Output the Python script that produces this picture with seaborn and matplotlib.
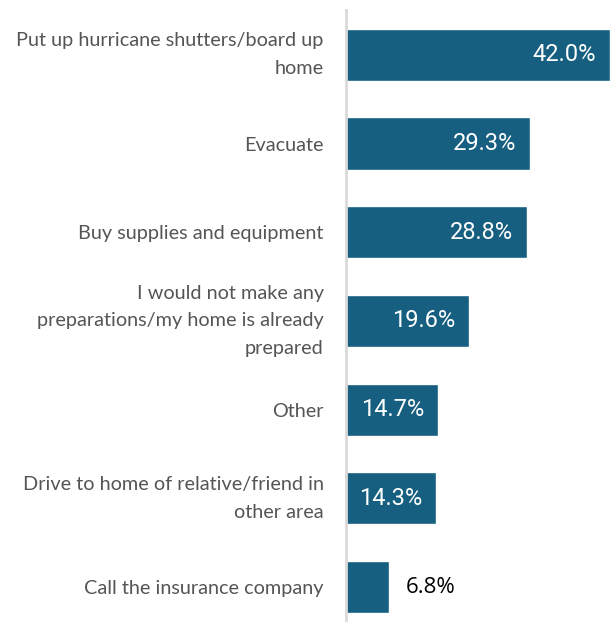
import matplotlib
matplotlib.use("Agg")
import matplotlib.pyplot as plt
import seaborn as sns
import pandas as pd

categories = [
    "Put up hurricane shutters/board up\nhome",
    "Evacuate",
    "Buy supplies and equipment",
    "I would not make any\npreparations/my home is already\nprepared",
    "Other",
    "Drive to home of relative/friend in\nother area",
    "Call the insurance company",
]
values = [42.0, 29.3, 28.8, 19.6, 14.7, 14.3, 6.8]

df = pd.DataFrame({"category": categories, "value": values})

sns.set_theme(style="white")
plt.rcParams["font.family"] = ["Lato", "DejaVu Sans"]

fig = plt.figure(figsize=(6.10, 6.23), dpi=100)
ax = fig.add_axes([346 / 610, 3 / 623, 264 / 610, 610 / 623])

sns.barplot(data=df, x="value", y="category", orient="h", color="#165f80",
            saturation=1, width=0.59, ax=ax)

ax.set_xlim(0, 42.0)
ax.set_ylim(6.372, -0.507)
ax.set_xlabel("")
ax.set_ylabel("")
ax.set_xticks([])
ax.tick_params(axis="y", length=0, pad=16, labelsize=14.3, labelcolor="#555555")
for lbl in ax.get_yticklabels():
    lbl.set_multialignment("right")
    lbl.set_linespacing(1.78)
    if "\n" in lbl.get_text():
        lbl.set_verticalalignment("center")

for s in ["top", "right", "bottom"]:
    ax.spines[s].set_visible(False)
ax.spines["left"].set_color("#d9d9d9")
ax.spines["left"].set_linewidth(2)

for i, v in enumerate(values):
    if v > 10:
        ax.annotate(f"{v:.1f}%", xy=(v, i), xytext=(-10, 0), textcoords="offset points",
                    ha="right", va="center", color="white", fontsize=17,
                    family=["Roboto", "DejaVu Sans"])
    else:
        ax.annotate(f"{v:.1f}%", xy=(v, i), xytext=(12, 0), textcoords="offset points",
                    ha="left", va="center", color="black", fontsize=16,
                    family=["Open Sans", "DejaVu Sans"])

fig.savefig("out.png", dpi=100)
